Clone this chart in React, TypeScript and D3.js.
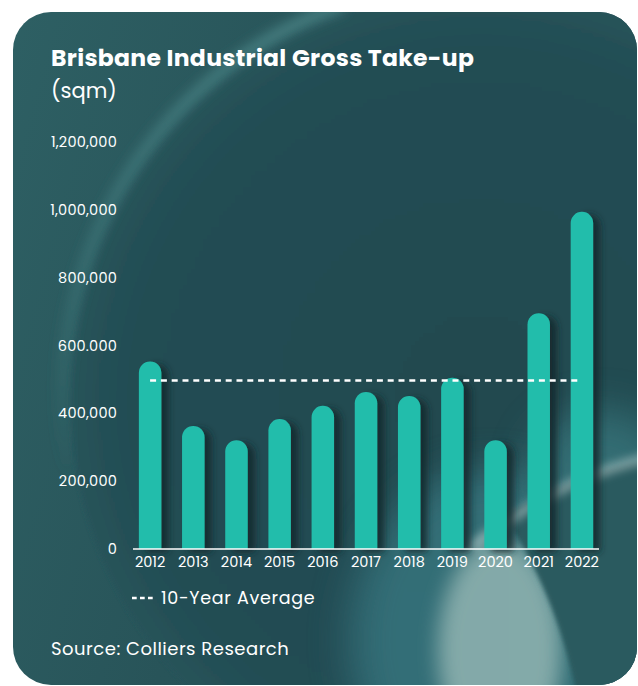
import React from "react";
import * as d3 from "d3";

const years = ["2012","2013","2014","2015","2016","2017","2018","2019","2020","2021","2022"];
const takeUp = [553000, 363000, 321000, 383000, 422000, 463000, 451000, 505000, 321000, 695000, 994000];
const tenYearAverage = 497000;
const yTicks = [0, 200000, 400000, 600000, 800000, 1000000, 1200000];
const yTickLabels = ["0", "200,000", "400,000", "600.000", "800,000", "1,000,000", "1,200,000"];

const W = 638, H = 686;
const FONT = "Poppins, 'Open Sans', Lato, sans-serif";

export default function App() {
  const x = d3.scaleBand<string>().domain(years).range([128.5, 603.5]).paddingInner(0.48).paddingOuter(0.24);
  const y = d3.scaleLinear().domain([0, 1200000]).range([549, 142]);
  const bw = x.bandwidth();
  const r = bw / 2;
  const barPath = (v: number, yr: string) => {
    const x0 = x(yr)!;
    const top = y(v);
    const bottom = y(0);
    const p = d3.path();
    p.moveTo(x0, bottom);
    p.lineTo(x0, top + r);
    p.arc(x0 + r, top + r, r, Math.PI, 0);
    p.lineTo(x0 + bw, bottom);
    p.closePath();
    return p.toString();
  };
  const cx = (yr: string) => x(yr)! + bw / 2;

  return (
    <svg width={W} height={H} style={{ display: "block", position: "absolute", left: 0, top: 0 }}>
      <defs>
        <clipPath id="card">
          <rect x={13} y={12} width={624} height={673} rx={38} />
        </clipPath>
        <linearGradient id="bg" x1="0" y1="0" x2="1" y2="0.3">
          <stop offset="0" stopColor="#2e6064" />
          <stop offset="0.5" stopColor="#285459" />
          <stop offset="1" stopColor="#245056" />
        </linearGradient>
        <radialGradient id="darkC" cx="0.5" cy="0.5" r="0.5">
          <stop offset="0" stopColor="#214a50" />
          <stop offset="0.85" stopColor="#234d53" />
          <stop offset="1" stopColor="#26535a" />
        </radialGradient>
        <linearGradient id="rimG" x1="0" y1="0" x2="0" y2="1">
          <stop offset="0" stopColor="#4a8486" stopOpacity="0.9" />
          <stop offset="0.6" stopColor="#3d7679" stopOpacity="0.6" />
          <stop offset="1" stopColor="#3d7679" stopOpacity="0" />
        </linearGradient>
        <filter id="blur20" x="-50%" y="-50%" width="200%" height="200%"><feGaussianBlur stdDeviation="20" /></filter>
        <filter id="blur10" x="-50%" y="-50%" width="200%" height="200%"><feGaussianBlur stdDeviation="10" /></filter>
        <filter id="blur6" x="-50%" y="-50%" width="200%" height="200%"><feGaussianBlur stdDeviation="6" /></filter>
        <filter id="blur5" x="-50%" y="-50%" width="200%" height="200%"><feGaussianBlur stdDeviation="5" /></filter>
        <filter id="blur2" x="-20%" y="-20%" width="140%" height="140%"><feGaussianBlur stdDeviation="2" /></filter>
        <filter id="shadow" x="-50%" y="-20%" width="220%" height="140%">
          <feGaussianBlur in="SourceAlpha" stdDeviation="3.5" />
          <feOffset dx="7" dy="3" result="b" />
          <feFlood floodColor="#15282c" floodOpacity="0.85" />
          <feComposite in2="b" operator="in" />
          <feMerge>
            <feMergeNode />
            <feMergeNode in="SourceGraphic" />
          </feMerge>
        </filter>
      </defs>

      <g clipPath="url(#card)">
        <rect x={0} y={0} width={W} height={H} fill="url(#bg)" />
        <circle cx={480} cy={400} r={410} fill="url(#darkC)" filter="url(#blur2)" />
        {/* light rim on the left of the big circle */}
        <path d="M 343 5 A 418 418 0 0 0 70 480" stroke="url(#rimG)" strokeWidth={12} fill="none" filter="url(#blur6)" />
        {/* bottom-right light glow */}
        <ellipse cx={490} cy={640} rx={140} ry={170} fill="#377780" opacity={0.8} filter="url(#blur20)" />
        <ellipse cx={500} cy={650} rx={62} ry={110} fill="#88adac" opacity={0.95} filter="url(#blur10)" />
        <ellipse cx={600} cy={470} rx={70} ry={60} fill="#3a7b82" opacity={0.7} filter="url(#blur20)" />
        {/* dark region lower right */}
        <path d="M 505 515 C 555 485, 600 468, 660 456 L 660 700 L 578 700 C 566 640, 548 585, 505 515 Z" fill="#2a5a5f" filter="url(#blur2)" />
        {/* light streak */}
        <path d="M 470 548 C 540 495, 590 470, 660 455" stroke="#b9cfce" strokeWidth={9} fill="none" opacity={0.6} filter="url(#blur5)" />
      </g>

      <text x={51} y={66} fill="#fff" fontFamily={FONT} fontWeight={700} fontSize={23.5} letterSpacing={0.3}>Brisbane Industrial Gross Take-up</text>
      <text x={51} y={98} fill="#fff" fontFamily={FONT} fontWeight={400} fontSize={21}>(sqm)</text>

      {yTicks.map((t, i) => (
        <text key={t} x={117} y={y(t)} dy="0.35em" textAnchor="end" fill="#fff" fontFamily={FONT} fontSize={14.5} letterSpacing={0.2}>
          {yTickLabels[i]}
        </text>
      ))}

      {years.map((yr, i) => (
        <path key={yr} d={barPath(takeUp[i], yr)} fill="#22bdab" filter="url(#shadow)" />
      ))}

      <line x1={133} x2={599} y1={y(0)} y2={y(0)} stroke="#fff" strokeWidth={1.5} />

      <line x1={cx(years[0])} x2={cx(years[years.length - 1])} y1={y(tenYearAverage)} y2={y(tenYearAverage)}
        stroke="#fff" strokeWidth={2.5} strokeDasharray="6,4.8" />

      {years.map((yr) => (
        <text key={yr} x={cx(yr)} y={567} textAnchor="middle" fill="#fff" fontFamily={FONT} fontSize={14.5}>{yr}</text>
      ))}

      <line x1={132} x2={156} y1={598} y2={598} stroke="#fff" strokeWidth={2.5} strokeDasharray="4.7,3.3" />
      <text x={161} y={604} fill="#fff" fontFamily={FONT} fontSize={17.5} letterSpacing={0.7}>10-Year Average</text>

      <text x={51} y={655} fill="#fff" fontFamily={FONT} fontSize={18} letterSpacing={0.5}>Source: Colliers Research</text>
    </svg>
  );
}
